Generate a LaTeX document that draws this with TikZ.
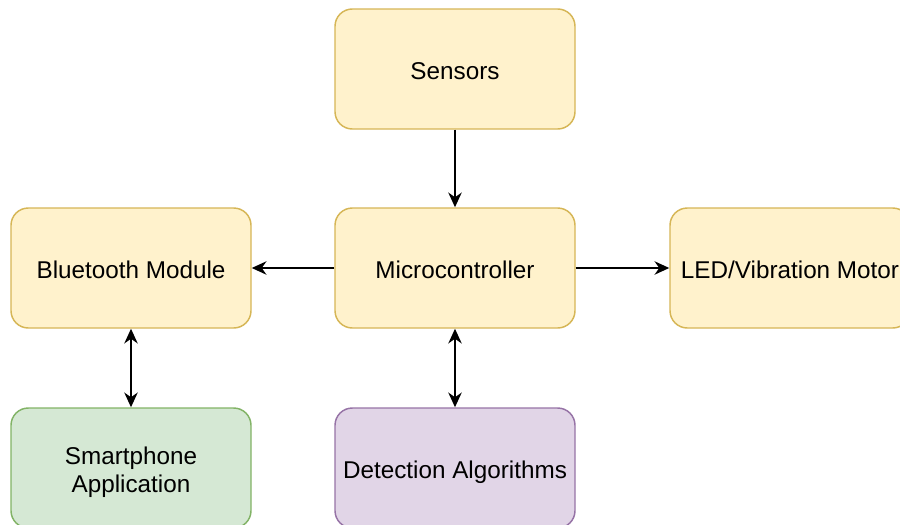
\documentclass[tikz,border=0pt]{standalone}
\usepackage{fontspec}
\setmainfont{Liberation Sans}
\usetikzlibrary{arrows.meta}
\definecolor{yfill}{HTML}{FFF2CC}
\definecolor{ydraw}{HTML}{D6B656}
\definecolor{gfill}{HTML}{D5E8D4}
\definecolor{gdraw}{HTML}{82B366}
\definecolor{pfill}{HTML}{E1D5E7}
\definecolor{pdraw}{HTML}{9673A6}
\tikzset{
  box/.style={rectangle, rounded corners=13pt, line width=1.1pt, minimum width=180pt, minimum height=90pt, inner sep=0pt, align=center, font=\fontsize{18.2pt}{21pt}\selectfont, text=black, text height=16pt, text depth=0pt},
  ybox/.style={box, fill=yfill, draw=ydraw},
  gbox/.style={box, fill=gfill, draw=gdraw},
  pbox/.style={box, fill=pfill, draw=pdraw},
  conn/.style={line width=1.5pt, -{Stealth[length=11pt, width=10pt, inset=3.5pt]}},
  dconn/.style={line width=1.5pt, {Stealth[length=11pt, width=10pt, inset=3.5pt]}-{Stealth[length=11pt, width=10pt, inset=3.5pt]}}
}
\begin{document}
\begin{tikzpicture}[x=0.75pt, y=-0.75pt]
\useasboundingbox (0,0) rectangle (900,525);
\clip (0,0) rectangle (900,525);
\node[ybox] (sens) at (455,69) {Sensors};
\node[ybox] (mcu) at (455,268) {Microcontroller};
\node[ybox] (bt) at (131,268) {Bluetooth Module};
\node[ybox] (led) at (790,268) {LED/Vibration Motor};
\node[gbox, text height=36.3pt, text depth=0pt] (app) at (131,468) {Smartphone\\Application};
\node[pbox] (det) at (455,468) {Detection Algorithms};
\draw[conn] (sens) -- (mcu);
\draw[conn] (mcu) -- (bt);
\draw[conn] (mcu) -- (led);
\draw[dconn] (bt) -- (app);
\draw[dconn] (mcu) -- (det);
\end{tikzpicture}
\end{document}
